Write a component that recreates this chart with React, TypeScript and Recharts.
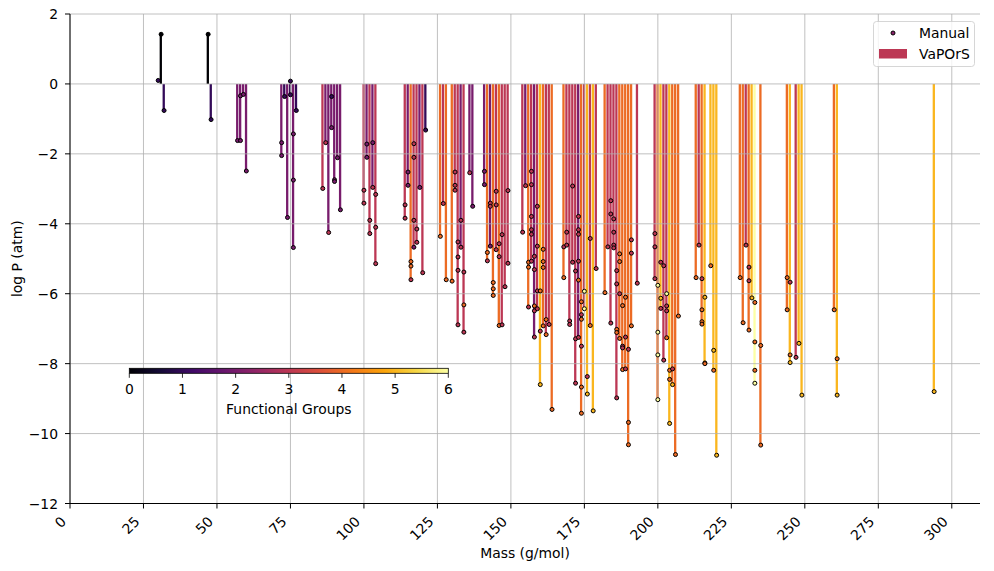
import React from 'react';
import { ComposedChart, Bar, Scatter, XAxis, YAxis, Cell, ReferenceLine } from 'recharts';

// VaPOrS bars: [mass (g/mol), log P (atm), functional groups]
const vaporsBars: [number, number, number][] = [
  [31, 1.42, 0], [32, -0.76, 1], [47, 1.42, 0], [48, -1.02, 1],
  [57, -1.62, 2], [58, -1.62, 2], [59, -0.3, 2], [60, -2.49, 2],
  [72, -2.05, 2], [73, -0.36, 1], [74, -3.82, 2], [75, -0.31, 1], [76, -4.68, 2], [77, -0.76, 1],
  [86, -2.99, 3], [87, -1.68, 2], [88, -4.25, 2], [89, -1.25, 2], [90, -2.79, 2], [91, -2.11, 2], [92, -3.6, 2],
  [100, -3.41, 3], [101, -2.1, 2], [102, -4.28, 3], [103, -2.96, 2], [104, -5.14, 3],
  [114, -3.84, 3], [115, -2.9, 2], [116, -5.6, 4], [117, -4.67, 3], [118, -4.53, 3], [119, -2.96, 2], [120, -5.4, 3], [121, -1.32, 1],
  [126, -4.36, 4], [127, -3.42, 3], [128, -5.6, 4], [130, -5.64, 4], [131, -3.04, 3], [132, -6.89, 3], [133, -4.67, 2], [134, -7.1, 3], [136, -2.54, 2], [137, -3.5, 2],
  [141, -2.88, 2], [142, -5.06, 4], [143, -4.64, 2], [144, -6.05, 4], [145, -4.74, 3], [146, -6.91, 4], [147, -6.89, 3], [148, -5.8, 3], [149, -5.13, 3],
  [154, -4.24, 3], [155, -2.91, 2], [156, -6.38, 4], [157, -5.07, 3], [158, -7.24, 2], [159, -6.43, 3], [160, -8.6, 5], [161, -6.92, 4], [162, -7.17, 3], [163, -6.88, 3], [164, -9.31, 4],
  [168, -5.54, 4], [169, -4.61, 3], [170, -6.88, 3], [171, -5.1, 3], [172, -8.56, 3], [173, -7.25, 2], [174, -9.42, 4], [175, -6.43, 3], [176, -8.87, 5], [177, -6.91, 3], [178, -9.35, 5], [179, -5.28, 3],
  [182, -5.97, 4], [183, -4.66, 3], [184, -6.84, 3], [185, -4.69, 3], [186, -8.98, 3], [187, -7.28, 4], [188, -8.17, 4], [189, -8.15, 4], [190, -10.32, 4], [191, -6.92, 4], [193, -5.7, 3],
  [199, -5.57, 3], [200, -9.03, 4], [201, -6.42, 5], [202, -7.9, 3], [203, -7.26, 3], [204, -9.71, 5], [205, -8.6, 4], [206, -10.6, 4], [207, -6.64, 4],
  [213, -5.54, 4], [214, -4.61, 3], [215, -6.87, 4], [216, -8.0, 5], [218, -5.2, 5], [219, -8.19, 5], [220, -10.62, 5],
  [228, -5.54, 4], [229, -6.83, 4], [230, -4.61, 3], [231, -7.04, 4], [232, -6.12, 5], [233, -8.56, 6], [235, -10.33, 4],
  [244, -6.46, 4], [245, -7.97, 5], [247, -7.82, 3], [248, -7.42, 5], [249, -8.9, 5],
  [260, -6.46, 4], [261, -8.9, 5], [294, -8.8, 5],
];

// Manual points: [mass (g/mol), log P (atm), functional groups]
const manualPoints: [number, number, number][] = [
  [30, 0.1, 1], [31, 1.42, 0], [32, -0.76, 1], [47, 1.42, 0], [48, -1.02, 1],
  [57, -1.62, 2], [58, -1.62, 2], [58, -0.34, 2], [59, -0.3, 2], [60, -2.49, 2],
  [73, -0.36, 1], [72, -1.68, 2], [72, -2.05, 2], [74, -3.82, 2], [75, 0.08, 1], [75, -0.31, 1], [76, -1.43, 2], [76, -2.75, 2], [76, -4.68, 2], [77, -0.76, 1],
  [86, -2.99, 3], [87, -1.68, 3], [88, -4.25, 3], [89, -0.36, 1], [89, -1.25, 2], [90, -2.74, 2], [90, -2.79, 2], [91, -2.11, 2], [92, -3.6, 2],
  [100, -3.04, 3], [100, -3.41, 3], [101, -1.72, 2], [101, -2.1, 2], [102, -3.9, 3], [102, -4.28, 3], [103, -1.68, 2], [103, -2.96, 3], [104, -3.16, 3], [104, -4.1, 3], [104, -5.14, 3],
  [114, -3.46, 3], [114, -3.84, 3], [115, -2.52, 2], [115, -2.9, 2], [116, -5.08, 4], [116, -5.21, 4], [116, -5.6, 3], [117, -1.71, 3], [117, -2.1, 3], [117, -3.9, 3], [117, -4.67, 2], [118, -4.15, 3], [118, -4.53, 3], [119, -2.96, 2], [120, -5.4, 3], [121, -1.32, 1],
  [126, -4.36, 4], [127, -3.42, 3], [128, -5.6, 4], [130, -5.64, 4], [131, -2.52, 3], [131, -2.9, 3], [131, -3.04, 3], [132, -4.52, 3], [132, -4.95, 3], [132, -5.33, 3], [132, -6.89, 3], [133, -3.9, 3], [133, -4.67, 3], [134, -5.38, 3], [134, -6.32, 4], [134, -7.1, 3], [136, -2.54, 3], [137, -3.5, 2],
  [141, -2.5, 2], [141, -2.88, 2], [142, -4.82, 4], [142, -5.06, 3], [143, -3.41, 3], [143, -3.5, 3], [143, -4.64, 2], [144, -5.68, 4], [144, -5.86, 4], [144, -6.05, 4], [145, -3.07, 3], [145, -3.46, 3], [145, -4.74, 3], [146, -4.57, 3], [146, -4.94, 3], [146, -6.91, 4], [147, -4.31, 3], [147, -6.89, 3], [148, -5.8, 3], [149, -3.05, 3], [149, -5.13, 3],
  [154, -4.24, 3], [155, -2.91, 3], [156, -5.1, 4], [156, -5.24, 4], [156, -6.38, 3], [157, -2.5, 3], [157, -2.88, 3], [157, -3.79, 3], [157, -4.17, 3], [157, -4.3, 3], [157, -5.07, 3], [158, -4.93, 3], [158, -5.31, 3], [158, -6.35, 4], [158, -6.49, 3], [158, -7.24, 3], [159, -3.5, 3], [159, -4.64, 3], [159, -5.92, 3], [159, -6.43, 3], [160, -5.92, 4], [160, -7.07, 3], [160, -8.6, 5], [161, -4.73, 4], [161, -5.08, 4], [161, -5.25, 4], [161, -6.92, 4], [162, -6.74, 4], [162, -7.17, 4], [163, -6.88, 3], [164, -9.31, 4],
  [168, -4.66, 3], [168, -5.54, 4], [169, -4.24, 3], [169, -4.61, 3], [170, -6.78, 3], [170, -6.88, 3], [171, -2.92, 3], [171, -5.1, 3], [172, -5.35, 3], [172, -7.29, 3], [172, -8.56, 3], [173, -3.79, 3], [173, -4.17, 3], [173, -4.3, 3], [173, -5.07, 3], [173, -5.61, 4], [173, -7.25, 3], [174, -6.23, 4], [174, -6.6, 3], [174, -6.73, 4], [174, -7.5, 3], [174, -8.67, 4], [174, -9.42, 4], [175, -5.93, 6], [175, -6.43, 6], [176, -8.37, 3], [176, -8.87, 5], [177, -4.42, 3], [177, -6.91, 4], [178, -9.35, 5], [179, -5.28, 3],
  [182, -5.97, 4], [183, -4.66, 3], [184, -3.34, 3], [184, -3.72, 3], [184, -6.84, 3], [185, -3.86, 3], [185, -4.24, 3], [185, -4.61, 3], [185, -4.69, 3], [186, -5.34, 3], [186, -5.72, 3], [186, -7.02, 4], [186, -7.11, 4], [186, -8.98, 3], [187, -4.86, 4], [187, -5.08, 4], [187, -6.0, 3], [187, -7.28, 4], [188, -6.34, 4], [188, -7.5, 3], [188, -7.55, 3], [188, -8.17, 4], [189, -6.1, 4], [189, -7.24, 3], [189, -8.15, 3], [190, -7.59, 3], [190, -9.68, 4], [190, -10.32, 4], [191, -4.46, 3], [191, -4.84, 3], [191, -6.92, 4], [193, -5.7, 3],
  [199, -4.28, 3], [199, -4.66, 3], [199, -5.57, 3], [200, -5.76, 6], [200, -7.1, 6], [200, -7.75, 6], [200, -9.03, 6], [201, -5.1, 3], [201, -6.13, 5], [201, -6.42, 3], [202, -5.2, 3], [202, -7.9, 3], [203, -6.0, 6], [203, -6.35, 3], [203, -6.49, 3], [203, -7.26, 4], [204, -8.19, 4], [204, -8.45, 4], [204, -9.71, 5], [205, -8.15, 3], [205, -8.6, 5], [206, -10.6, 4], [207, -6.64, 4],
  [213, -5.54, 4], [214, -4.61, 3], [215, -5.57, 3], [215, -6.46, 4], [215, -6.8, 4], [215, -6.87, 4], [216, -6.1, 5], [216, -7.98, 4], [216, -8.0, 4], [218, -5.2, 4], [219, -7.62, 5], [219, -8.19, 4], [220, -10.62, 5],
  [228, -5.54, 4], [229, -6.83, 4], [230, -4.61, 3], [231, -5.24, 3], [231, -5.63, 3], [231, -7.04, 4], [232, -6.12, 5], [233, -6.25, 4], [233, -7.38, 4], [233, -8.19, 4], [233, -8.56, 6], [235, -7.48, 4], [235, -10.33, 4],
  [244, -5.54, 4], [244, -6.46, 4], [245, -5.67, 3], [245, -7.75, 4], [245, -7.97, 5], [247, -7.82, 3], [248, -7.42, 5], [249, -8.9, 5],
  [260, -6.46, 4], [261, -7.86, 4], [261, -8.9, 5], [294, -8.8, 5],
];

const xTicks = [0, 25, 50, 75, 100, 125, 150, 175, 200, 225, 250, 275, 300];
const yTicks = [-12, -10, -8, -6, -4, -2, 0, 2];
const cbarTicks = [0, 1, 2, 3, 4, 5, 6];
const FG_MAX = 6;

const INFERNO = ['#000004', '#160b39', '#420a68', '#6a176e', '#932667', '#bc3754', '#dd513a', '#f37819', '#fca50a', '#f6d746', '#fcffa4'];

function hexToRgb(h: string) {
  return [parseInt(h.slice(1, 3), 16), parseInt(h.slice(3, 5), 16), parseInt(h.slice(5, 7), 16)];
}
function inferno(t: number) {
  const c = Math.max(0, Math.min(1, t)) * 10;
  const i = Math.min(9, Math.floor(c));
  const f = c - i;
  const a = hexToRgb(INFERNO[i]);
  const b = hexToRgb(INFERNO[i + 1]);
  const m = a.map((v, k) => Math.round(v + (b[k] - v) * f));
  return `rgb(${m[0]},${m[1]},${m[2]})`;
}

const barData = vaporsBars.map(([mass, vapors, fg]) => ({ mass, vapors, fg }));
const manualData = manualPoints.map(([mass, logP, fg]) => ({ mass, logP, fg }));

const FONT = 'DejaVu Sans';
const FS = 13.9;
const W = 994;
const H = 571;
const PL = 70;
const PR = 980;
const PT = 14;
const PB = 503.5;

const fmt = (v: number) => String(v).replace('-', '\u2212');

const XTick = (props: any) => {
  const { x, payload } = props;
  const ax = x - 3;
  const ay = PB + 19;
  return (
    <text x={ax} y={ay} transform={`rotate(-45, ${ax}, ${ay})`} textAnchor="end" fontFamily={FONT} fontSize={FS} fill="#000">
      {fmt(payload.value)}
    </text>
  );
};

const YTick = (props: any) => {
  const { x, y, payload } = props;
  return (
    <text x={x} y={y} textAnchor="end" dominantBaseline="central" fontFamily={FONT} fontSize={FS} fill="#000">
      {fmt(payload.value)}
    </text>
  );
};

const Dot = (props: any) => {
  const { cx, cy, payload } = props;
  if (cx == null || cy == null) return null;
  return <circle cx={cx} cy={cy} r={2} fill={inferno(payload.fg / FG_MAX)} stroke="#000" strokeWidth={1} />;
};

const CB_X0 = 129.3;
const CB_X1 = 448.3;
const CB_Y = 368.3;
const CB_H = 5;

export default function App() {
  const xMax = 309.6;
  return (
    <div style={{ position: 'absolute', left: 0, top: 0, width: W, height: H, background: '#fff' }}>
      <ComposedChart width={W} height={H} data={barData} margin={{ top: PT, right: W - PR, bottom: 0, left: 0 }}>
        <XAxis
          type="number"
          dataKey="mass"
          domain={[0, xMax]}
          ticks={xTicks}
          allowDataOverflow
          height={H - PB}
          tick={<XTick />}
          tickSize={5}
          tickLine={{ stroke: '#000', strokeWidth: 1 }}
          axisLine={{ stroke: '#000', strokeWidth: 1 }}
          interval={0}
        />
        <XAxis xAxisId="top" orientation="top" type="number" domain={[0, xMax]} height={0} tick={false} tickLine={false} axisLine={{ stroke: '#000', strokeWidth: 1 }} />
        <YAxis
          type="number"
          domain={[-12, 2]}
          ticks={yTicks}
          allowDataOverflow
          width={PL}
          tick={<YTick />}
          tickSize={5}
          tickMargin={7}
          tickLine={{ stroke: '#000', strokeWidth: 1 }}
          axisLine={{ stroke: '#000', strokeWidth: 1 }}
          interval={0}
        />
        <YAxis yAxisId="right" orientation="right" type="number" domain={[-12, 2]} width={0} tick={false} tickLine={false} axisLine={{ stroke: '#000', strokeWidth: 1 }} />
        <Bar dataKey="vapors" barSize={2.3} isAnimationActive={false}>
          {barData.map((d, i) => (
            <Cell key={i} fill={inferno(d.fg / FG_MAX)} />
          ))}
        </Bar>
        {xTicks.map((t) => (
          <ReferenceLine key={'gx' + t} x={t} stroke="#b0b0b0" strokeWidth={0.8} />
        ))}
        {yTicks.map((t) => (
          <ReferenceLine key={'gy' + t} y={t} stroke="#b0b0b0" strokeWidth={0.8} />
        ))}
        <Scatter data={manualData} dataKey="logP" isAnimationActive={false} shape={<Dot />} />
      </ComposedChart>
      <svg width={W} height={H} style={{ position: 'absolute', left: 0, top: 0, pointerEvents: 'none' }}>
        <defs>
          <linearGradient id="infernoGrad" x1="0" y1="0" x2="1" y2="0">
            {INFERNO.map((c, i) => (
              <stop key={i} offset={`${i * 10}%`} stopColor={c} />
            ))}
          </linearGradient>
        </defs>
        <text x={(PL + PR) / 2} y={553} textAnchor="middle" dominantBaseline="central" fontFamily={FONT} fontSize={FS} fill="#000">Mass (g/mol)</text>
        <text x={17} y={(PT + PB) / 2} transform={`rotate(-90, 17, ${(PT + PB) / 2})`} textAnchor="middle" dominantBaseline="central" fontFamily={FONT} fontSize={FS} fill="#000">log P (atm)</text>
        {/* colorbar */}
        <rect x={CB_X0} y={CB_Y} width={CB_X1 - CB_X0} height={CB_H} fill="url(#infernoGrad)" stroke="#000" strokeWidth={0.8} />
        {cbarTicks.map((t) => {
          const x = CB_X0 + ((CB_X1 - CB_X0) * t) / FG_MAX;
          return (
            <g key={'cb' + t}>
              <line x1={x} x2={x} y1={CB_Y + CB_H} y2={CB_Y + CB_H + 4.5} stroke="#000" strokeWidth={0.8} />
              <text x={x} y={389} textAnchor="middle" dominantBaseline="central" fontFamily={FONT} fontSize={FS} fill="#000">{t}</text>
            </g>
          );
        })}
        <text x={(CB_X0 + CB_X1) / 2} y={409} textAnchor="middle" dominantBaseline="central" fontFamily={FONT} fontSize={FS} fill="#000">Functional Groups</text>
        {/* legend */}
        <rect x={873.5} y={21.5} width={101} height={45} rx={3} fill="#fff" fillOpacity={0.8} stroke="#cccccc" strokeWidth={0.8} />
        <circle cx={893} cy={33} r={2} fill="#8a226a" stroke="#000" strokeWidth={1} />
        <text x={919} y={33} dominantBaseline="central" fontFamily={FONT} fontSize={FS} fill="#000">Manual</text>
        <rect x={879} y={49} width={28} height={9.5} fill="#bc3754" />
        <text x={919} y={53.5} dominantBaseline="central" fontFamily={FONT} fontSize={FS} fill="#000">VaPOrS</text>
      </svg>
    </div>
  );
}
